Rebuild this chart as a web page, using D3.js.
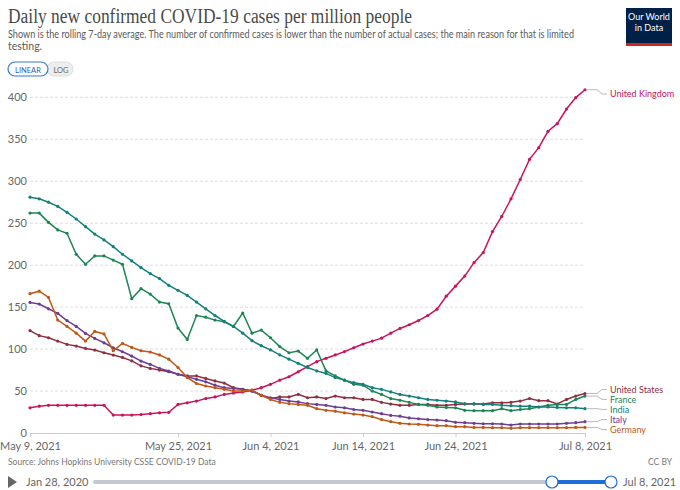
<!DOCTYPE html>
<html><head><meta charset="utf-8">
<script src="https://cdn.jsdelivr.net/npm/d3@7"></script>
<style>
body{margin:0;background:#fff;}
svg{display:block;font-family:Lato,"Noto Sans",sans-serif;}
</style></head>
<body><svg id="c" width="680" height="490"></svg>
<script>
const startDate = "2021-05-09";
const tickDates = ["2021-05-09","2021-05-25","2021-06-04","2021-06-14","2021-06-24","2021-07-08"];
const yTicks = [0,50,100,150,200,250,300,350,400];
const countries = ["United Kingdom","United States","France","India","Italy","Germany"];
const colors = ["#C8145E","#8E3040","#1E8554","#12807B","#6D3E91","#C05917"];

const ukValues = [30,32,33,33,33,33,33,33,33,21.4,21.4,21.4,22,23,24,24.6,34,36,38,41,43,46,47.6,48.8,51,54,58,63,67,73,79,85,89,93,97,101.6,106,109.5,113,119,124.6,129,134,140,147.6,163,175,187,203,215,240,258,279,302,326,340,359.5,368.6,386,399.6,409];
const usValues = [122,116,113.5,109.5,105.6,103.6,100.8,98.8,95.6,92.9,90,86,80,77,75,73,70,68,68,65,62,59.5,54,52,50,45,41,43,43,46,42,43,41,44,42,42,40,40,36.5,34.5,33,33,34,34,33,33,34,34.5,34.5,34.5,36,36,36.5,38,41,38.5,38.5,34.5,40,44,47];
const franceValues = [262,262,251,242,238,213,201,211,211,206,201,160,172,165.5,156,154,125,111.5,140,138,134.5,132.5,127,143,119,122.6,113.5,103,95.6,97.6,89,99,74,68,63,58,57,50,46,41,39,36.5,34,33,31,30.5,30,27,26.6,26.6,26.6,29,26.6,28,29,31,33,34,34,40,44];
const indiaValues = [281,279,275,270,263,255,246,237,230,222,213,205,197,190,184,176,170,164,156,148,140,133,127,119,110,104,99,93,88,83,78,74,71,66,63,60,58,54,52,49,46,44,42,40,39,38,37,35,35,34,34,33,32.5,32,32,31,31,30.5,30,30,29];
const italyValues = [155.6,153.6,148,142.5,134,127,118.6,112.7,107.5,101.6,96.8,91.7,85.7,81.7,77,73.8,70,67,64,61,57,54,53,52,50,45,42,40,38,37,35,34,33,31,30,28,27,25,23,21,20,18,17,16,15.5,14.7,12.7,12.3,11.5,11,11,10.7,9.5,10.7,10.7,10.7,10.7,10.7,11.5,12.3,13.5];
const germanyValues = [166,169,161.5,134.5,127,119,109.5,121,118,98,106.7,102,98,96.4,93,88,78,66,59,56,54,52,50,50,51,45,40,36.5,35,34,33,29,27,26,24,22.6,21.4,19.4,16,13.5,11.5,10.7,10.3,9.5,8.7,8.7,7.5,7.5,6.7,6.7,6.3,6.3,5.6,6.3,6.3,6.3,6.3,6.3,6.3,6.7,6.7];
const seriesValues = [ukValues,usValues,franceValues,indiaValues,italyValues,germanyValues];

const parse = d3.timeParse("%Y-%m-%d");
const t0 = parse(startDate);
const series = countries.map((name,i)=>({name,color:colors[i],
  values:seriesValues[i].map((v,j)=>({date:d3.timeDay.offset(t0,j),v}))}));

const svg = d3.select("#c");
const grey = "#5b5b5b";

// Title & subtitle
svg.append("text").attr("x",8).attr("y",23).attr("font-family","'Liberation Serif','DejaVu Serif',serif")
  .attr("font-size",20).attr("fill","#4a4a4a").attr("textLength",404).attr("lengthAdjust","spacingAndGlyphs")
  .text("Daily new confirmed COVID-19 cases per million people");
svg.append("text").attr("x",8).attr("y",37.5).attr("font-size",10.5).attr("fill",grey)
  .attr("textLength",566).attr("lengthAdjust","spacingAndGlyphs")
  .text("Shown is the rolling 7-day average. The number of confirmed cases is lower than the number of actual cases; the main reason for that is limited");
svg.append("text").attr("x",8).attr("y",50).attr("font-size",10.5).attr("fill",grey).text("testing.");

// Buttons
svg.append("rect").attr("x",47).attr("y",62).attr("width",26).attr("height",14).attr("rx",7).attr("fill","#eee").attr("stroke","#ddd");
svg.append("rect").attr("x",8).attr("y",62).attr("width",40).attr("height",14).attr("rx",7).attr("fill","#fff").attr("stroke","#3a78c8").attr("stroke-width",1.2);
svg.append("text").attr("x",28).attr("y",72.5).attr("text-anchor","middle").attr("font-size",7.5).attr("fill","#2a5fa8").text("LINEAR");
svg.append("text").attr("x",61).attr("y",72.5).attr("text-anchor","middle").attr("font-size",7.5).attr("fill","#666").text("LOG");

// Logo
svg.append("rect").attr("x",626).attr("y",8).attr("width",46).attr("height",38).attr("fill","#002147");
svg.append("rect").attr("x",626).attr("y",43).attr("width",46).attr("height",3).attr("fill","#ce261e");
const logo = svg.append("text").attr("text-anchor","middle").attr("font-size",9).attr("fill","#fff");
logo.append("tspan").attr("x",649).attr("y",20).text("Our World");
logo.append("tspan").attr("x",649).attr("y",31).text("in Data");

// Scales
const x = d3.scaleTime().domain([t0, d3.timeDay.offset(t0,60)]).range([30,585]);
const y = d3.scaleLinear().domain([0,400]).range([433,97.3]);

// Grid
svg.append("g").selectAll("line").data(yTicks.filter(d=>d>0)).join("line")
  .attr("x1",30).attr("x2",585).attr("y1",d=>y(d)).attr("y2",d=>y(d))
  .attr("stroke","#ddd").attr("stroke-dasharray","3,2");
svg.append("g").selectAll("text").data(yTicks).join("text")
  .attr("x",27).attr("y",d=>y(d)+4).attr("text-anchor","end").attr("font-size",11).attr("fill","#666").text(d=>d);

// X axis
const xAxis = d3.axisBottom(x).tickValues(tickDates.map(parse)).tickFormat(d3.timeFormat("%b %-d, %Y")).tickSize(4).tickSizeOuter(0);
const gx = svg.append("g").attr("transform","translate(0,433)").call(xAxis);
gx.select(".domain").attr("stroke","#ccc");
gx.selectAll(".tick line").attr("stroke","#ccc");
gx.selectAll(".tick text").attr("font-size",11).attr("fill","#666").attr("font-family","Lato,sans-serif").attr("dy","0.95em");

// Lines
const line = d3.line().x(d=>x(d.date)).y(d=>y(d.v));
const g = svg.append("g");
series.forEach(s=>{
  g.append("path").attr("d",line(s.values)).attr("fill","none").attr("stroke",s.color).attr("stroke-width",1.5);
  g.append("g").selectAll("circle").data(s.values).join("circle")
    .attr("cx",d=>x(d.date)).attr("cy",d=>y(d.v)).attr("r",1.6).attr("fill",s.color);
});

// Labels with collision resolution
const labs = series.map(s=>({s, dy:y(s.values[s.values.length-1].v)})).sort((a,b)=>a.dy-b.dy);
let groups = labs.map(l=>({items:[l], c:l.dy}));
const sp = 10;
let changed = true;
while(changed){
  changed=false;
  groups.forEach(gr=>{ gr.c = d3.mean(gr.items,l=>l.dy); gr.top = gr.c - (gr.items.length-1)*sp/2; gr.bot = gr.top+(gr.items.length-1)*sp; });
  for(let i=0;i<groups.length-1;i++){
    if(groups[i+1].top - groups[i].bot < sp){
      groups[i].items = groups[i].items.concat(groups[i+1].items);
      groups.splice(i+1,1); changed=true; break;
    }
  }
}
groups.forEach(gr=>{ gr.items.forEach((l,k)=>{ l.ly = Math.max(94, gr.top + k*sp); }); });
labs.forEach(l=>{
  svg.append("path").attr("d",`M587,${l.dy}H597L602,${l.ly}H607`).attr("fill","none").attr("stroke","#bbb").attr("stroke-width",1);
  svg.append("text").attr("x",610).attr("y",l.ly).attr("dy","0.35em").attr("font-size",9).attr("fill",l.s.color).text(l.s.name);
});

// Footer
svg.append("text").attr("x",8).attr("y",465).attr("font-size",8.5).attr("fill","#777").text("Source: Johns Hopkins University CSSE COVID-19 Data");
svg.append("text").attr("x",672).attr("y",465).attr("text-anchor","end").attr("font-size",8.5).attr("fill","#777").text("CC BY");
svg.append("path").attr("d","M8,476L17,482L8,488Z").attr("fill","#666");
svg.append("text").attr("x",26).attr("y",486).attr("font-size",11).attr("fill","#666").text("Jan 28, 2020");
svg.append("rect").attr("x",93).attr("y",480).attr("width",518).attr("height",4).attr("rx",2).attr("fill","#c4c8d0");
svg.append("rect").attr("x",552).attr("y",480).attr("width",59).attr("height",4).attr("fill","#1d6fd6");
[552,611].forEach(cx=>svg.append("circle").attr("cx",cx).attr("cy",482).attr("r",6).attr("fill","#fff").attr("stroke","#1d6fd6").attr("stroke-width",1.2));
svg.append("text").attr("x",623).attr("y",486).attr("font-size",11).attr("fill","#666").text("Jul 8, 2021");
</script></body></html>
